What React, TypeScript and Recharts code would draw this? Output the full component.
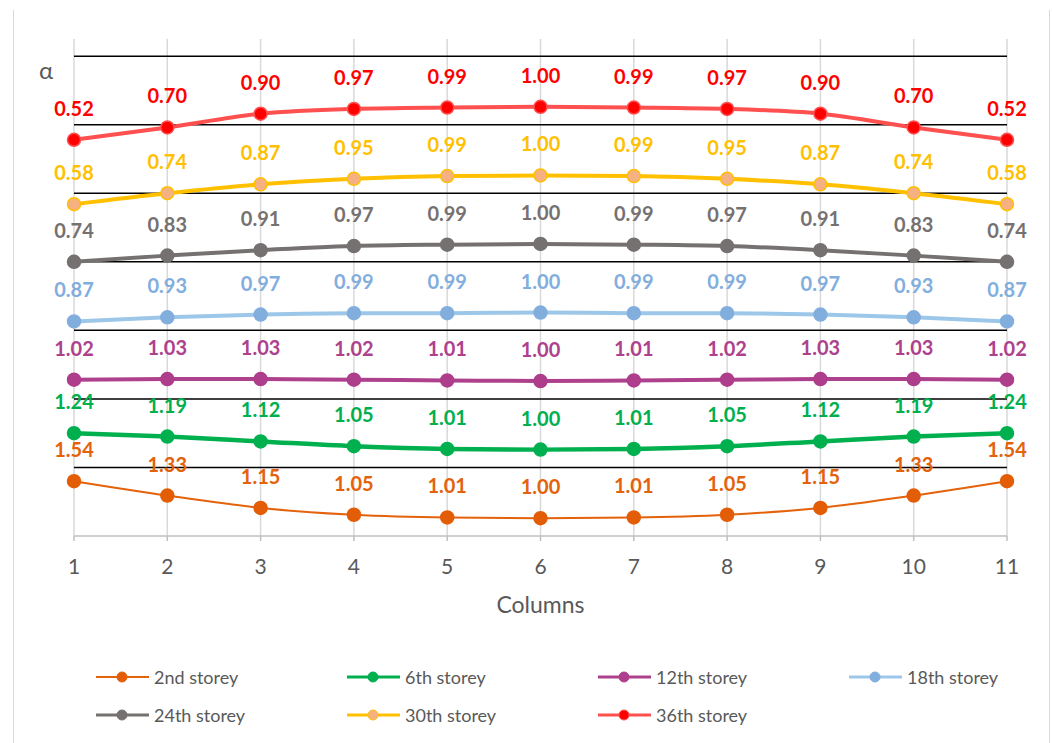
import {
  CartesianGrid,
  Label,
  LabelList,
  Legend,
  Line,
  LineChart,
  ReferenceLine,
  XAxis,
  YAxis
} from "recharts"

const columns = [1, 2, 3, 4, 5, 6, 7, 8, 9, 10, 11]

const storey2 = [1.54, 1.33, 1.15, 1.05, 1.01, 1.0, 1.01, 1.05, 1.15, 1.33, 1.54]
const storey6 = [1.24, 1.19, 1.12, 1.05, 1.01, 1.0, 1.01, 1.05, 1.12, 1.19, 1.24]
const storey12 = [1.02, 1.03, 1.03, 1.02, 1.01, 1.0, 1.01, 1.02, 1.03, 1.03, 1.02]
const storey18 = [0.87, 0.93, 0.97, 0.99, 0.99, 1.0, 0.99, 0.99, 0.97, 0.93, 0.87]
const storey24 = [0.74, 0.83, 0.91, 0.97, 0.99, 1.0, 0.99, 0.97, 0.91, 0.83, 0.74]
const storey30 = [0.58, 0.74, 0.87, 0.95, 0.99, 1.0, 0.99, 0.95, 0.87, 0.74, 0.58]
const storey36 = [0.52, 0.7, 0.9, 0.97, 0.99, 1.0, 0.99, 0.97, 0.9, 0.7, 0.52]

// each curve is lifted by one band so they stack up the chart
const bandLines = [1.74, 2.74, 3.74, 4.74, 5.74, 6.74, 7.74]

const FONT = "Lato, 'Open Sans', sans-serif"

interface SeriesDef {
  key: string
  name: string
  values: number[]
  shift: number
  line: string
  dot: string
  dotStroke: string
  label: string
  width: number
}

const series: SeriesDef[] = [
  { key: "s2", name: "2nd storey", values: storey2, shift: 0, line: "#e3620b", dot: "#e35d06", dotStroke: "#e35d06", label: "#e3620b", width: 2 },
  { key: "s6", name: "6th storey", values: storey6, shift: 1, line: "#00b04f", dot: "#00b04f", dotStroke: "#00b04f", label: "#00b04f", width: 4.5 },
  { key: "s12", name: "12th storey", values: storey12, shift: 2, line: "#ae418d", dot: "#ae3d8c", dotStroke: "#ae3d8c", label: "#ae418d", width: 4 },
  { key: "s18", name: "18th storey", values: storey18, shift: 3, line: "#9dc7e9", dot: "#82aede", dotStroke: "#82aede", label: "#82aede", width: 4 },
  { key: "s24", name: "24th storey", values: storey24, shift: 4, line: "#767171", dot: "#767171", dotStroke: "#767171", label: "#767171", width: 4 },
  { key: "s30", name: "30th storey", values: storey30, shift: 5, line: "#ffc000", dot: "#f6b183", dotStroke: "#ffc000", label: "#ffc000", width: 4 },
  { key: "s36", name: "36th storey", values: storey36, shift: 6, line: "#ff5050", dot: "#ff0000", dotStroke: "#ff5050", label: "#ff0000", width: 4 }
]

const chartData = columns.map((col, i) => {
  const row: Record<string, number> = { col }
  series.forEach(s => {
    row[s.key] = s.values[i]
    row[s.key + "_y"] = s.values[i] + s.shift
  })
  return row
})

const LegendBox = () => (
  <div style={{ position: "relative", width: 1052, height: 76, fontFamily: FONT }}>
    {series.map((s, i) => {
      const col = i % 4
      const row = Math.floor(i / 4)
      return (
        <div
          key={s.key}
          style={{
            position: "absolute",
            left: 96 + col * 251,
            top: row * 38,
            height: 38,
            display: "flex",
            alignItems: "center",
            whiteSpace: "nowrap"
          }}
        >
          <svg width={54} height={14} style={{ marginRight: 4 }}>
            <line x1={0} y1={7} x2={53} y2={7} stroke={s.line} strokeWidth={Math.min(s.width, 3)} />
            <circle cx={26} cy={7} r={5} fill={s.dot} stroke={s.dotStroke} strokeWidth={1} />
          </svg>
          <span style={{ fontSize: 18, color: "#595959" }}>{s.name}</span>
        </div>
      )
    })}
  </div>
)

const App = () => {
  return (
    <div style={{ position: "absolute", left: 0, top: 0, width: 1052, height: 743, background: "#fff", overflow: "hidden" }}>
      <div
        style={{
          position: "absolute",
          left: 13,
          top: 10,
          width: 1035,
          height: 760,
          borderLeft: "1px solid #d9d9d9",
          borderRight: "1px solid #d9d9d9"
        }}
      />
      <div style={{ position: "absolute", left: 39, top: 55, fontFamily: FONT, fontSize: 24, color: "#595959" }}>α</div>
      <LineChart
        width={1052}
        height={743}
        data={chartData}
        margin={{ top: 39, right: 45, left: 74, bottom: 41 }}
        style={{ fontFamily: FONT }}
      >
        <CartesianGrid horizontal={false} stroke="#d9d9d9" strokeWidth={1.5} />
        {bandLines.map(v => (
          <ReferenceLine key={v} y={v} stroke="#000" strokeWidth={1.5} />
        ))}
        <XAxis
          dataKey="col"
          stroke="#bfbfbf"
          strokeWidth={1.5}
          tickSize={5}
          tickMargin={18}
          height={90}
          tick={{ fill: "#595959", fontSize: 21 }}
        >
          <Label value="Columns" position="insideBottom" offset={13} fill="#595959" fontSize={23} />
        </XAxis>
        <YAxis hide type="number" domain={[0.74, 7.99]} allowDataOverflow />
        {series.map(s => (
          <Line
            key={s.key}
            type="monotone"
            dataKey={s.key + "_y"}
            name={s.name}
            stroke={s.line}
            strokeWidth={s.width}
            dot={{ r: 6.5, fill: s.dot, stroke: s.dotStroke, strokeWidth: 1.5 }}
            activeDot={false}
            isAnimationActive={false}
          >
            <LabelList
              dataKey={s.key}
              position="top"
              offset={24}
              fill={s.label}
              fontSize={20}
              fontWeight="bold"
              formatter={(v: number) => v.toFixed(2)}
            />
          </Line>
        ))}
        <Legend
          content={<LegendBox />}
          wrapperStyle={{ top: 658, left: 0, width: 1052, height: 76 }}
        />
      </LineChart>
    </div>
  )
}

export default App
